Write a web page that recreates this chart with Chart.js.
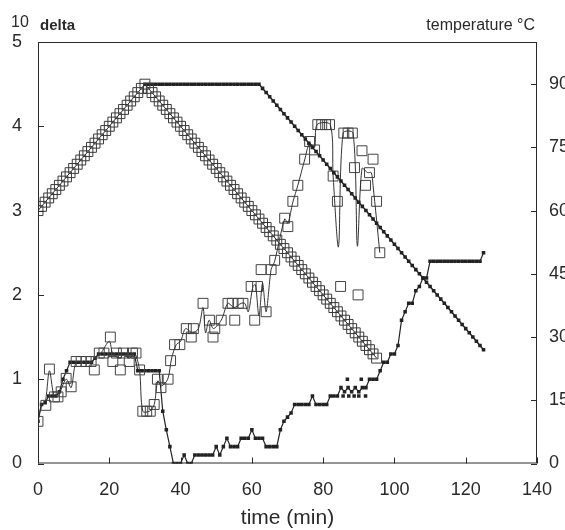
<!DOCTYPE html>
<html>
<head>
<meta charset="utf-8">
<script src="https://cdn.jsdelivr.net/npm/chart.js@4.4.1/dist/chart.umd.min.js"></script>
<style>
 html,body{margin:0;padding:0;background:#fff;}
 #wrap{width:565px;height:530px;}
</style>
</head>
<body>
<div id="wrap"><canvas id="c" width="565" height="530"></canvas></div>
<script>
// temperature programmes, one sample per minute (deg C)
const tempOpenStart = 0;
const tempOpen = [60,61,62,63,64,65,66,67,68,69,70,71,72,73,74,75,76,77,78,79,80,81,82,83,84,85,86,87,88,89,90,
 89,88,87,86,85,84,83,82,81,80,79,78,77,76,75,74,73,72,71,70,69,68,67,66,65,64,63,62,61,60,
 59,58,57,56,55,54,53,52,51,50,49,48,47,46,45,44,43,42,41,40,39,38,37,36,35,34,33,32,31,30,29,28,27,26,25];
const tempFilledStart = 30;
const tempFilled = [90,90,90,90,90,90,90,90,90,90,90,90,90,90,90,90,90,90,90,90,90,90,90,90,90,90,90,90,90,90,90,90,90,
 89,88,87,86,85,84,83,82,81,80,79,78,77,76,75,74,73,72,71,70,69,68,67,66,65,64,63,62,61,60,
 59,58,57,56,55,54,53,52,51,50,49,48,47,46,45,44,43,42,41,40,39,38,37,36,35,34,33,32,31,30,29,28,27];

// delta, open-square run (measured points)
const sqTime = [0,2.2,3.2,4.6,5.6,6.5,7.9,9.3,10.7,12.1,13.5,14.9,15.8,17.2,18.5,20.3,21,22,23.1,24,25.6,26.5,27.5,28.5,
 29.4,30.5,31.5,32.6,33.5,34.5,36.5,37.2,38.3,39.8,41.6,43,43.6,46.3,48.1,49.1,49.6,51.4,53.3,54.5,55.2,56.2,57.5,
 59.8,60.8,61.6,62.6,64,65.4,66.4,69.2,70.1,71.5,72.9,74.8,76.2,77.6,78.5,79.6,80.7,81.8,82.8,84,84.9,85.8,87,88.2,
 88.8,89.8,90.9,91.9,93,94,95,95.9];
const sqDelta = [0.5,0.69,1.12,0.79,0.79,0.85,1.01,0.91,1.21,1.21,1.21,1.21,1.11,1.31,1.31,1.5,1.21,1.31,1.11,1.31,1.21,1.31,1.31,1.11,
 0.62,0.62,0.62,0.7,1.0,0.9,1.0,1.22,1.41,1.41,1.6,1.5,1.6,1.9,1.7,1.5,1.6,1.7,1.9,1.9,1.7,1.9,1.9,
 2.1,1.7,2.1,2.3,1.8,2.3,2.41,2.91,2.81,3.11,3.3,3.61,3.82,3.72,4.02,4.02,4.02,4.02,3.41,3.11,2.1,3.92,3.92,3.92,
 3.51,2.0,3.71,3.3,3.45,3.61,3.11,2.5];

// delta, thin curve drawn through the open-square run
const curveTime = [0,1,2,3.2,4.5,5.6,7.9,9.3,10.7,13,15,16,17.5,20,21,23,24,25.6,27.2,28.5,29.4,31.3,32.6,33.6,34.6,36.4,37.5,
 38.8,40,41.4,43.3,45,46.3,47,48,49.2,51.4,53.3,55,57,58,59,60.3,61,62,63,64,65.4,66.4,69.2,70.1,71.5,72.9,74.8,76.2,
 77.6,78.3,82,82.8,84.3,85.6,88.4,89.6,90.9,92.5,93.5,94,95.9];
const curveDelta = [0.5,0.7,0.72,1.1,0.8,0.8,1.0,0.9,1.2,1.2,1.2,1.25,1.3,1.45,1.3,1.25,1.3,1.25,1.3,1.1,0.62,0.62,0.7,0.98,0.92,1.0,1.25,
 1.41,1.45,1.6,1.55,1.6,1.85,1.55,1.7,1.6,1.7,1.9,1.85,1.9,1.9,1.8,2.1,2.12,1.75,2.14,1.8,2.3,2.4,2.9,2.85,3.1,3.3,3.6,3.8,
 3.75,4.02,4.02,3.41,2.57,3.92,3.92,2.58,3.5,3.45,3.45,3.3,2.5];

// delta, filled-dot run, one sample per minute from t = 0
const dotStart = 0;
const dotDelta = [0.5,0.7,0.72,0.8,0.8,0.8,0.85,1.0,1.1,1.2,1.2,1.2,1.2,1.2,1.2,1.2,1.25,1.3,1.3,1.3,
 1.3,1.3,1.3,1.3,1.3,1.3,1.3,1.3,1.1,1.1,1.1,1.1,1.1,1.1,1.1,0.62,0.4,0.2,0,0,
 0,0.1,0,0,0.1,0.1,0.1,0.1,0.1,0.1,0.2,0.1,0.2,0.3,0.2,0.2,0.2,0.3,0.3,0.3,
 0.4,0.3,0.3,0.3,0.2,0.2,0.2,0.2,0.4,0.5,0.55,0.6,0.7,0.7,0.7,0.7,0.7,0.8,0.7,0.7,
 0.7,0.7,0.8,0.8,0.8,0.9,0.85,0.9,0.85,0.9,0.85,0.9,0.9,1.0,1.0,1.0,1.1,1.2,1.2,1.3,
 1.3,1.4,1.7,1.8,1.9,1.9,2.05,2.1,2.2,2.2,2.4,2.4,2.4,2.4,2.4,2.4,2.4,2.4,2.4,2.4,
 2.4,2.4,2.4,2.4,2.4,2.5];
// stray filled dots off the curve
const strayTime = [85.6,86.8,87.2,88.7,90,90.7,91.9];
const strayDelta = [0.8,1.0,0.8,0.8,0.8,1.0,0.8];

const xTicks = [0,20,40,60,80,100,120,140];
const yTicks = [0,1,2,3,4,5];
const tTicks = [0,15,30,45,60,75,90];

const ink = '#2a2a2a';
const fontName = "'Liberation Sans', Arial, sans-serif";

function pts(xs, ys){ return xs.map((x,i)=>({x:x, y:ys[i]})); }
function series(start, ys){ return ys.map((y,i)=>({x:start+i, y:y})); }

const frame = {
 id:'frame',
 afterDraw(chart){
  const ctx=chart.ctx, a=chart.chartArea;
  const sx=chart.scales.x, sy=chart.scales.y, st=chart.scales.y2;
  ctx.save();
  ctx.strokeStyle=ink; ctx.lineWidth=1;
  ctx.strokeRect(a.left+0.5,a.top+0.5,a.right-a.left-1,a.bottom-a.top-1);
  ctx.beginPath();
  xTicks.forEach(v=>{ let p=Math.round(sx.getPixelForValue(v))+0.5; ctx.moveTo(p,a.bottom); ctx.lineTo(p,a.bottom-6); });
  yTicks.forEach(v=>{ let p=Math.round(sy.getPixelForValue(v))+0.5; ctx.moveTo(a.left,p); ctx.lineTo(a.left+6,p); });
  tTicks.forEach(v=>{ let p=Math.round(st.getPixelForValue(v))+0.5; ctx.moveTo(a.right,p); ctx.lineTo(a.right-6,p); });
  ctx.stroke();
  ctx.fillStyle=ink;
  ctx.textBaseline='alphabetic';
  ctx.font='16px '+fontName; ctx.textAlign='left';
  ctx.fillText('10',11,27);
  ctx.font='bold 15px '+fontName;
  ctx.fillText('delta',40,30);
  ctx.font='16px '+fontName; ctx.textAlign='right';
  ctx.fillText('temperature °C',a.right-2,30);
  ctx.font='21px '+fontName; ctx.textAlign='center';
  ctx.fillText('time (min)',(a.left+a.right)/2,524);
  ctx.restore();
 }
};

new Chart(document.getElementById('c'),{
 type:'scatter',
 data:{datasets:[
  {data:series(tempOpenStart,tempOpen), yAxisID:'y2', showLine:true, borderColor:ink, borderWidth:1,
   pointStyle:'rect', pointRadius:7, pointBorderWidth:1, pointBorderColor:'#3a3a3a', pointBackgroundColor:'rgba(0,0,0,0)'},
  {data:series(tempFilledStart,tempFilled), yAxisID:'y2', showLine:true, borderColor:ink, borderWidth:1.5,
   pointStyle:'rect', pointRadius:2.5, pointBorderWidth:0, pointBackgroundColor:'#222'},
  {data:pts(curveTime,curveDelta), yAxisID:'y', showLine:true, borderColor:'#333', borderWidth:1,
   tension:0.3, pointRadius:0},
  {data:pts(sqTime,sqDelta), yAxisID:'y', showLine:false,
   pointStyle:'rect', pointRadius:7, pointBorderWidth:1, pointBorderColor:'#444', pointBackgroundColor:'rgba(0,0,0,0)'},
  {data:series(dotStart,dotDelta), yAxisID:'y', showLine:true, borderColor:'#222', borderWidth:1.2,
   pointStyle:'rect', pointRadius:2.5, pointBorderWidth:0, pointBackgroundColor:'#222'},
  {data:pts(strayTime,strayDelta), yAxisID:'y', showLine:false,
   pointStyle:'rect', pointRadius:2.5, pointBorderWidth:0, pointBackgroundColor:'#222'}
 ]},
 options:{
  responsive:false, animation:false,
  layout:{padding:{top:42,left:0,right:0,bottom:0}},
  plugins:{legend:{display:false}, tooltip:{enabled:false}},
  elements:{line:{borderCapStyle:'butt'}},
  scales:{
   x:{type:'linear', min:0, max:140, grid:{display:false}, border:{display:false},
    afterBuildTicks(s){ s.ticks=xTicks.map(v=>({value:v})); },
    afterFit(s){ s.height=66.5; },
    ticks:{color:ink, font:{family:fontName,size:18}, padding:8, maxRotation:0}},
   y:{type:'linear', position:'left', min:0, max:5, grid:{display:false}, border:{display:false},
    afterBuildTicks(s){ s.ticks=yTicks.map(v=>({value:v})); },
    afterFit(s){ s.width=38; },
    ticks:{color:ink, font:{family:fontName,size:18}, padding:8}},
   y2:{type:'linear', position:'right', min:0, max:100, grid:{display:false}, border:{display:false},
    afterBuildTicks(s){ s.ticks=tTicks.map(v=>({value:v})); },
    afterFit(s){ s.width=28; },
    ticks:{color:ink, font:{family:fontName,size:18}, padding:4}}
  }
 },
 plugins:[frame]
});
</script>
</body>
</html>
